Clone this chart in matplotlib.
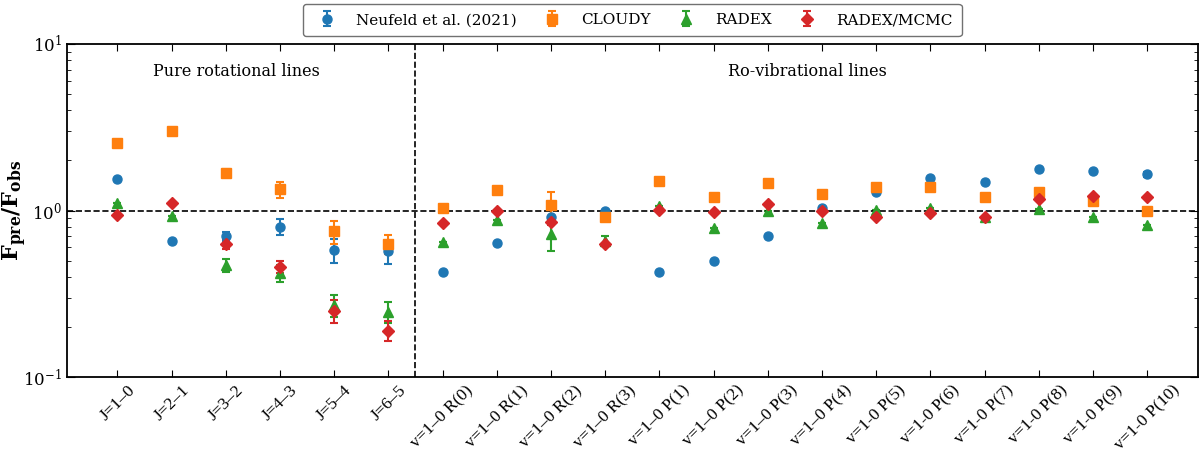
import numpy as np
import matplotlib.pyplot as plt

plt.rcParams['font.family'] = 'DejaVu Serif'
plt.rcParams['mathtext.fontset'] = 'dejavuserif'

labels = ['J=1–0', 'J=2–1', 'J=3–2', 'J=4–3', 'J=5–4', 'J=6–5',
          'v=1–0 R(0)', 'v=1–0 R(1)', 'v=1–0 R(2)', 'v=1–0 R(3)',
          'v=1–0 P(1)', 'v=1–0 P(2)', 'v=1–0 P(3)', 'v=1–0 P(4)',
          'v=1-0 P(5)', 'v=1-0 P(6)', 'v=1-0 P(7)', 'v=1-0 P(8)',
          'v=1-0 P(9)', 'v=1-0 P(10)']

neufeld = [1.55, 0.66, 0.70, 0.80, 0.58, 0.57,
           0.43, 0.64, 0.92, 0.99, 0.43, 0.50, 0.70, 1.03,
           1.29, 1.57, 1.49, 1.77, 1.72, 1.65]
neufeld_err = [0.0, 0.0, 0.04, 0.09, 0.095, 0.09,
               0.0, 0.0, 0.0, 0.0, 0.0, 0.0, 0.0, 0.0,
               0.0, 0.0, 0.0, 0.0, 0.0, 0.05]

cloudy = [2.56, 3.00, 1.68, 1.34, 0.75, 0.63,
          1.03, 1.32, 1.08, 0.92, 1.51, 1.21, 1.47, 1.26,
          1.38, 1.39, 1.21, 1.30, 1.14, 0.99]
cloudy_err = [0.0, 0.0, 0.1, 0.15, 0.12, 0.08,
              0.0, 0.0, 0.22, 0.0, 0.0, 0.0, 0.0, 0.0,
              0.0, 0.0, 0.0, 0.0, 0.0, 0.0]

radex = [1.11, 0.93, 0.47, 0.42, 0.27, 0.246,
         0.65, 0.88, 0.72, 0.66, 1.06, 0.78, 1.00, 0.84,
         1.01, 1.04, 0.91, 1.02, 0.92, 0.82]
radex_err = [0.0, 0.0, 0.04, 0.05, 0.042, 0.035,
             0.0, 0.0, 0.15, 0.04, 0.0, 0.0, 0.0, 0.0,
             0.0, 0.0, 0.0, 0.0, 0.0, 0.0]

mcmc = [0.94, 1.11, 0.63, 0.46, 0.25, 0.19,
        0.84, 0.99, 0.85, 0.63, 1.01, 0.98, 1.10, 0.99,
        0.92, 0.96, 0.91, 1.17, 1.23, 1.21]
mcmc_err = [0.0, 0.0, 0.04, 0.04, 0.04, 0.026,
            0.0, 0.0, 0.03, 0.0, 0.0, 0.0, 0.0, 0.0,
            0.0, 0.0, 0.0, 0.0, 0.0, 0.0]

x = np.arange(len(labels))

fig = plt.figure(figsize=(12, 4.55), dpi=100)
ax = fig.add_axes([0.0558, 0.1714, 0.9422, 0.7319])

series = [
    ('Neufeld et al. (2021)', neufeld, neufeld_err, 'o', 'tab:blue', 6.5),
    ('CLOUDY', cloudy, cloudy_err, 's', 'tab:orange', 6.5),
    ('RADEX', radex, radex_err, '^', 'tab:green', 7),
    ('RADEX/MCMC', mcmc, mcmc_err, 'D', 'tab:red', 6.5),
]
for name, vals, errs, mk, col, ms in series:
    ax.errorbar(x, vals, yerr=errs, fmt=mk, color=col, ms=ms,
                capsize=3, elinewidth=1.5, capthick=1.5, label=name)

ax.axhline(1.0, color='k', ls='--', lw=1.2)
ax.axvline(5.5, color='k', ls='--', lw=1.2)

ax.set_yscale('log')
ax.set_ylim(0.1, 10)
ax.set_xlim(-0.93, 19.93)
ax.set_xticks(x)
ax.set_xticklabels(labels, rotation=45, ha='center',
                   fontsize=12.5, family='Liberation Serif')
ax.tick_params(axis='both', which='both', direction='in', top=True, right=True)
ax.tick_params(axis='y', which='major', length=6, labelsize=12)
ax.tick_params(axis='y', which='minor', length=3)
ax.tick_params(axis='x', which='major', length=5, pad=4)
ax.set_ylabel(r'$\mathbf{F_{pre}/F_{obs}}$', fontsize=16)
ax.yaxis.set_label_coords(-0.034, 0.5)

ax.text(0.150, 0.916, 'Pure rotational lines', transform=ax.transAxes,
        ha='center', va='center', fontsize=11.5)
ax.text(0.655, 0.916, 'Ro-vibrational lines', transform=ax.transAxes,
        ha='center', va='center', fontsize=11.5)

for s in ax.spines.values():
    s.set_linewidth(1.3)

leg = ax.legend(loc='lower center', bbox_to_anchor=(0.5, 1.0), ncol=4,
                fontsize=11, frameon=True, edgecolor='0.3', fancybox=True,
                borderpad=0.6, columnspacing=1.3, handletextpad=0.9)
leg.get_frame().set_linewidth(1.0)

fig.savefig('out.png', dpi=100)
